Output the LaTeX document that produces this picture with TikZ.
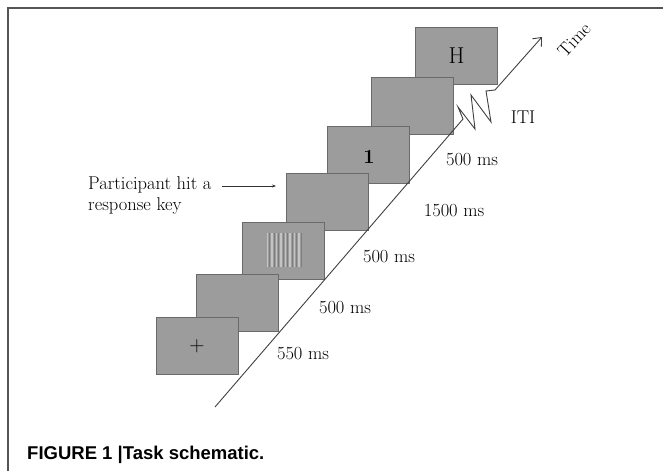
\documentclass[tikz,border=0pt]{standalone}
\usepackage{fontspec}
\newfontfamily\capfont{Liberation Sans}
\usetikzlibrary{arrows.meta}
\definecolor{boxfill}{HTML}{9C9C9C}
\definecolor{boxline}{HTML}{6A6A6A}
\definecolor{frameline}{HTML}{555555}
\definecolor{stripelight}{HTML}{C4C4C4}
\definecolor{stripedark}{HTML}{7E7E7E}
\begin{document}
\begin{tikzpicture}[x=1pt,y=-1pt,
  screen/.style={draw=boxline,fill=boxfill,line width=1pt,minimum width=82pt,minimum height=57pt,inner sep=0pt},
  lbl/.style={font=\fontsize{18.5}{21}\selectfont,inner sep=0pt},
  tline/.style={draw=black!75,line width=0.9pt}]
\useasboundingbox (0,0) rectangle (663,471);
% frame
\draw[frameline,line width=1.3pt] (8,471) -- (8,8) -- (663,8);
% screens (earliest drawn on top, so draw latest first)
\node[screen] (sH) at (456.5,55.5) {};
\node[lbl,font=\fontsize{23}{25}\selectfont] (tH) at (sH) {H};
\node[screen] (s5) at (412,105.5) {};
\node[screen] (s4) at (368,154.5) {};
\node[lbl,font=\fontsize{20}{22}\selectfont\bfseries] (t1) at (369,157) {\oldstylenums{1}};
\node[screen] (s3) at (327,201.5) {};
\node[screen] (s2) at (283.5,250.5) {};
% grating
\foreach \i in {0,...,7}{
  \draw[stripelight,line width=1.3pt] (267.5+4.5*\i,233) -- (267.5+4.5*\i,267);
  \draw[stripedark,line width=0.9pt] (269.8+4.5*\i,233) -- (269.8+4.5*\i,267);
}
\node[screen] (s1) at (237,302.5) {};
\node[screen] (s0) at (197,346) {};
\node[lbl,font=\fontsize{21}{22}\selectfont] (tplus) at (s0) {+};
% time line
\coordinate (tb) at (215,407);
\coordinate (z0) at (463,119);
\coordinate (ttip) at (542,37);
\draw[tline,-{Straight Barb[length=7pt,width=12pt]}] (tb) -- (z0) -- (458,107) -- (475,129) -- (471,95) -- (491,122) -- (486,91) -- (495,90) -- (ttip);
\node[lbl,rotate=47] (time) at (574,40) {Time};
\node[lbl] (iti) at (523,117) {ITI};
% durations
\node[lbl] (d5) at (472,160) {\oldstylenums{500} ms};
\node[lbl] (d4) at (454,211) {\oldstylenums{1500} ms};
\node[lbl] (d3) at (389,257) {\oldstylenums{500} ms};
\node[lbl] (d2) at (345,308) {\oldstylenums{500} ms};
\node[lbl] (d1) at (303,354) {\oldstylenums{550} ms};
% participant note
\node[lbl,align=left,anchor=north west,font=\fontsize{18.5}{21}\selectfont] (note) at (88,176) {Participant hit a\\response key};
\coordinate (na) at (222,186);
\coordinate (nb) at (276,186);
\draw[black!80,line width=0.6pt,-{Stealth[length=4pt,width=3pt]}] (na) -- (nb);
% caption
\node[anchor=west,inner sep=0pt,font=\capfont\bfseries\fontsize{18.5}{21}\selectfont] (cap) at (27,455) {FIGURE 1 |Task schematic.};
\end{tikzpicture}
\end{document}
